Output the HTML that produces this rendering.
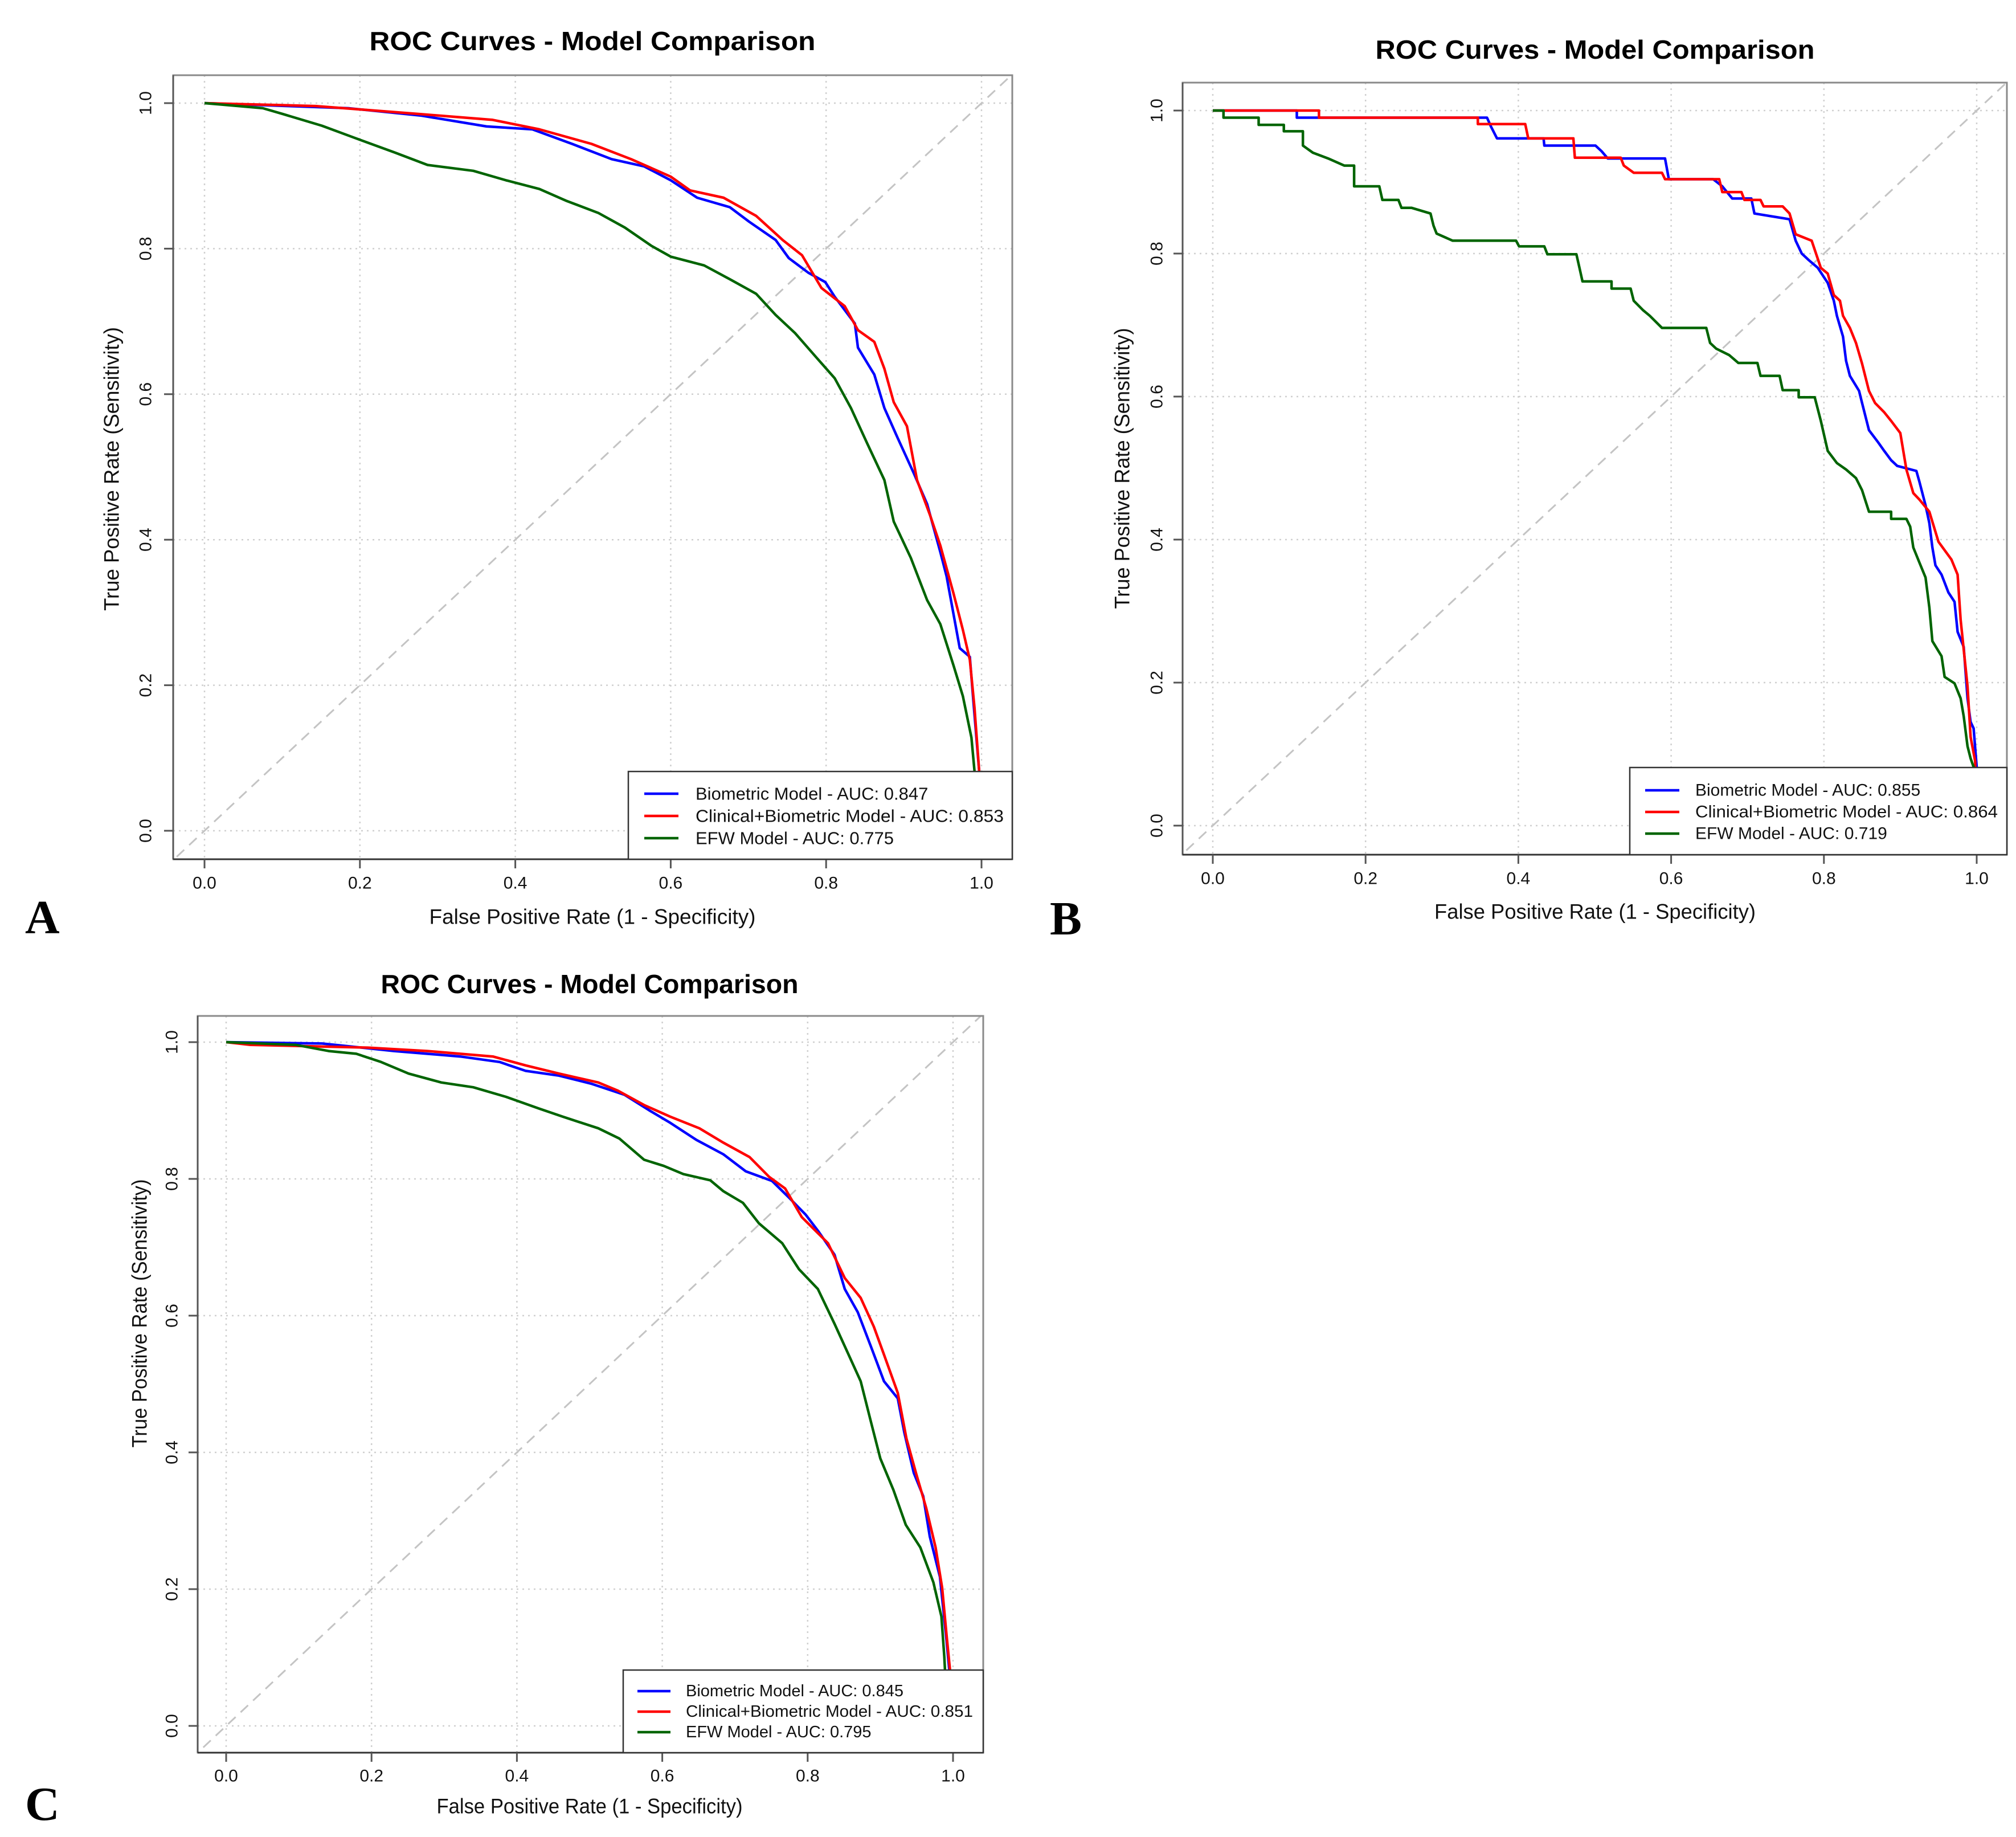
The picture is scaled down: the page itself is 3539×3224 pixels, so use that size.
<!DOCTYPE html>
<html><head><meta charset="utf-8"><style>
html,body{margin:0;padding:0;background:#fff;}
svg{display:block;font-family:"Liberation Sans",sans-serif;}
</style></head><body>
<svg id="fig" width="3539" height="3224" viewBox="0 0 3539 3224" xmlns="http://www.w3.org/2000/svg">
<rect width="3539" height="3224" fill="#fff"/>
</svg>
<script>
// ---- shared axis data ----
const tickValues = [0, 0.2, 0.4, 0.6, 0.8, 1.0];
const tickLabels = ["0.0", "0.2", "0.4", "0.6", "0.8", "1.0"];
const seriesNames = ["Biometric Model", "Clinical+Biometric Model", "EFW Model"];
const panelLetters = ["A", "B", "C"];
const aucA = ["0.847", "0.853", "0.775"];
const aucB = ["0.855", "0.864", "0.719"];
const aucC = ["0.845", "0.851", "0.795"];

// ---- panel A ----
const aBlueFpr = [0,0.185,0.278,0.363,0.422,0.473,0.524,0.566,0.600,0.634,0.676,0.701,0.735,0.752,0.777,0.799,0.811,0.837,0.841,0.862,0.875,0.892,0.913,0.930,0.947,0.955,0.972,0.985,0.989,0.996,0.997,1.0];
const aBlueTpr = [1.0,0.993,0.983,0.968,0.964,0.944,0.923,0.913,0.894,0.870,0.857,0.837,0.812,0.787,0.767,0.754,0.734,0.697,0.664,0.627,0.581,0.540,0.491,0.449,0.383,0.350,0.251,0.239,0.185,0.095,0.082,0.0];
const aRedFpr = [0,0.143,0.278,0.371,0.431,0.498,0.549,0.600,0.625,0.668,0.710,0.744,0.769,0.794,0.824,0.841,0.862,0.875,0.887,0.904,0.917,0.934,0.947,0.964,0.976,0.985,0.991,0.997,1.0];
const aRedTpr = [1.0,0.996,0.985,0.977,0.964,0.944,0.923,0.899,0.880,0.870,0.845,0.812,0.791,0.746,0.721,0.688,0.672,0.635,0.589,0.556,0.482,0.433,0.392,0.326,0.276,0.235,0.169,0.082,0.0];
const aGreenFpr = [0,0.075,0.101,0.151,0.194,0.245,0.287,0.346,0.388,0.431,0.465,0.507,0.541,0.575,0.600,0.643,0.676,0.710,0.735,0.760,0.787,0.811,0.832,0.853,0.875,0.887,0.909,0.930,0.947,0.964,0.976,0.987,0.991,1.0];
const aGreenTpr = [1.0,0.993,0.985,0.969,0.952,0.932,0.915,0.907,0.894,0.882,0.866,0.849,0.829,0.804,0.789,0.777,0.758,0.738,0.709,0.684,0.651,0.622,0.581,0.532,0.482,0.425,0.375,0.317,0.284,0.227,0.185,0.128,0.082,0.0];

// ---- panel B ----
const bBlueFpr = [0,0.110,0.110,0.359,0.364,0.372,0.433,0.434,0.501,0.509,0.517,0.592,0.597,0.655,0.667,0.680,0.705,0.709,0.755,0.763,0.771,0.780,0.792,0.805,0.813,0.817,0.825,0.829,0.834,0.846,0.850,0.859,0.871,0.879,0.888,0.896,0.921,0.925,0.933,0.938,0.942,0.946,0.954,0.963,0.971,0.975,0.983,0.988,0.992,0.996,1.0,1.0];
const bBlueTpr = [1.0,1.0,0.990,0.990,0.978,0.961,0.961,0.951,0.951,0.943,0.933,0.933,0.904,0.904,0.894,0.877,0.877,0.856,0.848,0.818,0.800,0.791,0.780,0.759,0.734,0.713,0.684,0.650,0.629,0.608,0.591,0.553,0.536,0.524,0.511,0.503,0.496,0.481,0.448,0.423,0.389,0.364,0.351,0.326,0.313,0.271,0.250,0.178,0.145,0.136,0.082,0.0];
const bRedFpr = [0,0.139,0.139,0.347,0.347,0.409,0.413,0.472,0.474,0.534,0.538,0.551,0.588,0.592,0.663,0.667,0.692,0.696,0.717,0.721,0.746,0.755,0.763,0.784,0.796,0.805,0.813,0.821,0.825,0.834,0.842,0.850,0.859,0.867,0.879,0.888,0.900,0.908,0.917,0.925,0.938,0.950,0.967,0.975,0.979,0.988,0.992,0.998,1.0];
const bRedTpr = [1.0,1.0,0.990,0.990,0.981,0.981,0.961,0.961,0.934,0.934,0.923,0.913,0.913,0.904,0.904,0.886,0.886,0.875,0.875,0.866,0.866,0.856,0.827,0.818,0.780,0.772,0.742,0.734,0.713,0.696,0.675,0.646,0.608,0.591,0.578,0.566,0.549,0.498,0.465,0.456,0.439,0.397,0.372,0.351,0.288,0.195,0.124,0.090,0.0];
const bGreenFpr = [0,0.014,0.014,0.060,0.060,0.093,0.093,0.118,0.118,0.131,0.151,0.172,0.185,0.185,0.218,0.222,0.243,0.247,0.260,0.285,0.289,0.293,0.314,0.397,0.401,0.434,0.438,0.476,0.480,0.484,0.522,0.522,0.547,0.551,0.563,0.572,0.588,0.646,0.651,0.659,0.676,0.688,0.713,0.717,0.742,0.746,0.767,0.767,0.788,0.796,0.805,0.817,0.829,0.842,0.850,0.859,0.888,0.888,0.908,0.913,0.917,0.925,0.933,0.938,0.942,0.954,0.958,0.971,0.979,0.983,0.988,0.992,0.996,1.0];
const bGreenTpr = [1.0,1.0,0.990,0.990,0.980,0.980,0.971,0.971,0.951,0.941,0.933,0.923,0.923,0.894,0.894,0.875,0.875,0.864,0.864,0.856,0.839,0.828,0.818,0.818,0.810,0.810,0.799,0.799,0.780,0.761,0.761,0.751,0.751,0.734,0.721,0.713,0.696,0.696,0.675,0.667,0.658,0.647,0.647,0.629,0.629,0.609,0.609,0.599,0.599,0.566,0.524,0.507,0.498,0.486,0.469,0.439,0.439,0.429,0.429,0.418,0.389,0.368,0.347,0.305,0.258,0.237,0.208,0.199,0.178,0.153,0.111,0.094,0.082,0.0];

// ---- panel C ----
const cBlueFpr = [0,0.132,0.231,0.322,0.376,0.412,0.458,0.503,0.548,0.584,0.611,0.647,0.684,0.715,0.751,0.774,0.797,0.815,0.837,0.851,0.869,0.887,0.905,0.924,0.933,0.946,0.959,0.968,0.982,0.991,0.995,1.0];
const cBlueTpr = [1.0,0.998,0.987,0.979,0.971,0.958,0.951,0.939,0.923,0.899,0.882,0.857,0.836,0.811,0.797,0.773,0.748,0.723,0.689,0.639,0.605,0.555,0.504,0.479,0.429,0.370,0.336,0.277,0.218,0.126,0.080,0.0];
const cRedFpr = [0,0.033,0.195,0.277,0.367,0.412,0.458,0.512,0.539,0.575,0.611,0.651,0.684,0.720,0.747,0.769,0.792,0.828,0.851,0.873,0.891,0.904,0.924,0.936,0.949,0.963,0.976,0.985,0.991,0.996,1.0];
const cRedTpr = [1.0,0.996,0.992,0.987,0.979,0.966,0.954,0.941,0.929,0.908,0.891,0.874,0.853,0.832,0.803,0.786,0.744,0.706,0.655,0.626,0.584,0.546,0.487,0.420,0.370,0.319,0.261,0.202,0.134,0.080,0.0];
const cGreenFpr = [0,0.096,0.141,0.179,0.213,0.251,0.296,0.340,0.385,0.430,0.463,0.512,0.541,0.575,0.602,0.629,0.666,0.684,0.711,0.733,0.765,0.788,0.814,0.837,0.855,0.873,0.887,0.900,0.918,0.935,0.955,0.973,0.984,0.988,0.989,1.0];
const cGreenTpr = [1.0,0.996,0.987,0.983,0.971,0.954,0.941,0.934,0.920,0.903,0.891,0.874,0.859,0.828,0.819,0.807,0.798,0.782,0.765,0.735,0.706,0.668,0.639,0.588,0.546,0.504,0.445,0.391,0.345,0.294,0.261,0.210,0.160,0.101,0.080,0.0];

const NS = "http://www.w3.org/2000/svg";
const svg = document.getElementById("fig");
const colors = ["#0000ff", "#ff0000", "#006400"];

function mk(parent, tag, attrs) {
  const e = document.createElementNS(NS, tag);
  for (const k in attrs) e.setAttribute(k, attrs[k]);
  parent.appendChild(e);
  return e;
}

function drawPanel(L, series, auc, letter, pid) {
  const g = mk(svg, "g", {});
  
  
  const sx = v => L.x0 + v * (L.x1 - L.x0);
  const sy = v => L.y0 - v * (L.y0 - L.y1);

  // grid
  tickValues.forEach(t => {
    const gl = mk(g, "line", {x1: sx(t), x2: sx(t), y1: L.box[1], y2: L.box[3], stroke: "#d0d0d0", "stroke-width": 2.5, "stroke-dasharray": "3 7"});
    
    
    const gh = mk(g, "line", {x1: L.box[0], x2: L.box[2], y1: sy(t), y2: sy(t), stroke: "#d0d0d0", "stroke-width": 2.5, "stroke-dasharray": "3 7"});
    
    
  });

  // diagonal (abline 0,1 clipped to box)
  const cp = mk(g, "clipPath", {id: "clip" + pid});
  mk(cp, "rect", {x: L.box[0], y: L.box[1], width: L.box[2] - L.box[0], height: L.box[3] - L.box[1]});
  const dg = mk(g, "line", {x1: sx(-0.1), y1: sy(-0.1), x2: sx(1.1), y2: sy(1.1), stroke: "#c4c4c4", "stroke-width": 3, "stroke-dasharray": "18 12", "clip-path": "url(#clip" + pid + ")"});
  
  

  // curves
  const cg = mk(g, "g", {"clip-path": "url(#clip" + pid + ")"});
  series.forEach((s, i) => {
    const pts = s[0].map((f, j) => sx(f).toFixed(1) + "," + sy(s[1][j]).toFixed(1)).join(" ");
    const pl = mk(cg, "polyline", {points: pts, fill: "none", stroke: colors[i], "stroke-width": 4.5, "stroke-linejoin": "round"});
    
    
  });

  // frame
  const fr = mk(g, "rect", {x: L.box[0], y: L.box[1], width: L.box[2] - L.box[0], height: L.box[3] - L.box[1], fill: "none", stroke: "#8a8a8a", "stroke-width": 3});
  
  
  // axis lines darker on left and bottom
  mk(g, "line", {x1: L.box[0], x2: L.box[0], y1: L.box[1], y2: L.box[3], stroke: "#555", "stroke-width": 3});
  mk(g, "line", {x1: L.box[0], x2: L.box[2], y1: L.box[3], y2: L.box[3], stroke: "#333", "stroke-width": 3});

  // ticks + labels
  tickValues.forEach((t, i) => {
    mk(g, "line", {x1: sx(t), x2: sx(t), y1: L.box[3], y2: L.box[3] + 16, stroke: "#555", "stroke-width": 3});
    mk(g, "line", {x1: L.box[0], x2: L.box[0] - 16, y1: sy(t), y2: sy(t), stroke: "#555", "stroke-width": 3});
    const xt = mk(g, "text", {x: sx(t), y: L.xtY, "font-size": 30, "text-anchor": "middle", "dominant-baseline": "central", fill: "#111"});
    xt.textContent = tickLabels[i];
    
    
    const yt = mk(g, "text", {x: 0, y: 0, "font-size": 30, "text-anchor": "middle", "dominant-baseline": "central", fill: "#111", transform: "translate(" + L.ytX + "," + sy(t) + ") rotate(-90)"});
    yt.textContent = tickLabels[i];
    
    
  });

  // titles
  const ti = mk(g, "text", {x: L.title[0], y: L.title[1], "font-size": 46, "font-weight": "bold", "text-anchor": "middle", "dominant-baseline": "central", textLength: L.title[2], lengthAdjust: "spacingAndGlyphs", fill: "#000"});
  ti.textContent = "ROC Curves - Model Comparison";
  
  
  const xl = mk(g, "text", {x: L.xlab[0], y: L.xlab[1], "font-size": 37, "text-anchor": "middle", "dominant-baseline": "central", textLength: L.xlab[2], lengthAdjust: "spacingAndGlyphs", fill: "#111"});
  xl.textContent = "False Positive Rate (1 - Specificity)";
  
  
  const yl = mk(g, "text", {x: 0, y: 0, "font-size": 37, "text-anchor": "middle", "dominant-baseline": "central", textLength: L.ylab[2], lengthAdjust: "spacingAndGlyphs", fill: "#111", transform: "translate(" + L.ylab[0] + "," + L.ylab[1] + ") rotate(-90)"});
  yl.textContent = "True Positive Rate (Sensitivity)";
  
  

  // legend
  const lg = mk(g, "g", {});
  
  
  mk(lg, "rect", {x: L.leg[0], y: L.leg[1], width: L.leg[2] - L.leg[0], height: L.leg[3] - L.leg[1], fill: "#fff", stroke: "#333", "stroke-width": 2.5});
  series.forEach((s, i) => {
    const ry = L.legRows[i];
    const ll = mk(lg, "line", {x1: L.legLine[0], x2: L.legLine[1], y1: ry, y2: ry, stroke: colors[i], "stroke-width": 4.5});
    
    
    const lt = mk(lg, "text", {x: L.legText, y: ry, "font-size": L.legFont, "dominant-baseline": "central", fill: "#111"});
    lt.textContent = seriesNames[i] + " - AUC: " + auc[i];
    if (i === 1) { lt.setAttribute("textLength", L.legW); lt.setAttribute("lengthAdjust", "spacingAndGlyphs"); }
    
    
  });

  // panel letter
  const pl = mk(svg, "text", {x: L.letter[0], y: L.letter[1], "font-size": 84, "font-weight": "bold", "font-family": "Liberation Serif, serif", fill: "#000"});
  pl.textContent = letter;
  
  
}

drawPanel({box: [304,132,1777,1508], x0: 359, x1: 1723, y1: 181, y0: 1458,
  title: [1040,72,783], xlab: [1040,1609,573], ylab: [196,823,498], ytX: 256, xtY: 1550,
  leg: [1103,1354,1777,1508], legRows: [1393,1432,1471], legLine: [1131,1191], legText: 1221, legW: 541, legFont: 31,
  letter: [44,1638]},
  [[aBlueFpr,aBlueTpr],[aRedFpr,aRedTpr],[aGreenFpr,aGreenTpr]], aucA, panelLetters[0], "a");

drawPanel({box: [2076,145,3523,1500], x0: 2129, x1: 3470, y1: 194, y0: 1449,
  title: [2800,87,771], xlab: [2800,1600,564], ylab: [1970,822,493], ytX: 2031, xtY: 1542,
  leg: [2861,1347,3523,1500], legRows: [1387,1425,1463], legLine: [2888,2948], legText: 2976, legW: 531, legFont: 30,
  letter: [1843,1640]},
  [[bBlueFpr,bBlueTpr],[bRedFpr,bRedTpr],[bGreenFpr,bGreenTpr]], aucB, panelLetters[1], "b");

drawPanel({box: [347,1783,1726,3076], x0: 397, x1: 1673, y1: 1829, y0: 3029,
  title: [1035,1727,733], xlab: [1035,3170,537], ylab: [245,2305,471], ytX: 302, xtY: 3117,
  leg: [1094,2931,1726,3076], legRows: [2968,3004,3040], legLine: [1119,1177], legText: 1204, legW: 504, legFont: 29,
  letter: [44,3194]},
  [[cBlueFpr,cBlueTpr],[cRedFpr,cRedTpr],[cGreenFpr,cGreenTpr]], aucC, panelLetters[2], "c");
</script>
</body></html>
